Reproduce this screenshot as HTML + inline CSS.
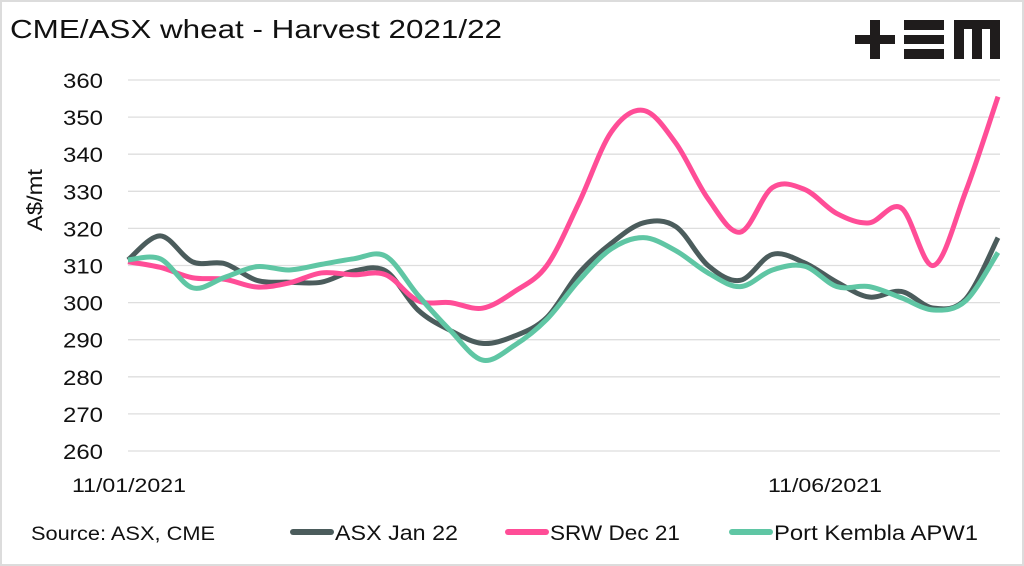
<!DOCTYPE html>
<html><head><meta charset="utf-8"><style>
body{margin:0;background:#fff}
#wrap{position:relative;width:1024px;height:566px;box-sizing:border-box;border:2px solid #dcdcdc;background:#fff;font-family:"Liberation Sans",sans-serif;overflow:hidden}
</style></head><body>
<div id="wrap">
<svg id="chart" width="1024" height="566" style="position:absolute;left:-2px;top:-2px">
<text x="10" y="38" font-size="26" fill="#111" textLength="492" lengthAdjust="spacingAndGlyphs">CME/ASX wheat - Harvest 2021/22</text>
<g fill="#1f1c1c">
<rect x="855" y="35" width="40" height="9"/><rect x="870" y="20" width="10" height="39"/>
<rect x="904" y="20" width="40" height="10"/><rect x="904" y="35" width="40" height="9"/><rect x="904" y="49" width="40" height="10"/>
<path d="M954 20h46v39h-10v-30h-8v30h-10v-30h-8v30h-10z"/>
</g>
<g id="grid"></g><g id="ylab"></g><g id="series"></g>
<text x="42" y="200" font-size="21" fill="#111" text-anchor="middle" textLength="62" lengthAdjust="spacingAndGlyphs" transform="rotate(-90 42 200)">A$/mt</text>
<text x="72" y="492" font-size="19" fill="#111" textLength="114" lengthAdjust="spacingAndGlyphs">11/01/2021</text>
<text x="768" y="492" font-size="19" fill="#111" textLength="114" lengthAdjust="spacingAndGlyphs">11/06/2021</text>
<text x="31" y="540" font-size="19" fill="#111" textLength="184" lengthAdjust="spacingAndGlyphs">Source: ASX, CME</text>
<g>
<g><line x1="293" y1="532" x2="331" y2="532" stroke="#4b5c5c" stroke-width="6" stroke-linecap="round"/><text x="335" y="540" font-size="21" fill="#111" textLength="123" lengthAdjust="spacingAndGlyphs">ASX Jan 22</text></g>
<g><line x1="508" y1="532" x2="546" y2="532" stroke="#ff4d97" stroke-width="6" stroke-linecap="round"/><text x="550" y="540" font-size="21" fill="#111" textLength="130" lengthAdjust="spacingAndGlyphs">SRW Dec 21</text></g>
<g><line x1="732" y1="532" x2="770" y2="532" stroke="#5fc6a4" stroke-width="6" stroke-linecap="round"/><text x="774" y="540" font-size="21" fill="#111" textLength="204" lengthAdjust="spacingAndGlyphs">Port Kembla APW1</text></g>
</g>
</svg>
</div>
<script>
const days=[0,7,14,21,28,35,42,49,56,63,70,77,84,91,98,105,112,119,126,133,140,147,154,161,168,175,182,189];
const asx=[311.5,318,311,310.5,306,305.5,305.5,308.5,308.5,298,292.5,289,291,296,308,316,321.5,320.5,310,306,313,310.7,305.5,301.5,303,298.5,301,317.5];
const srw=[311,309.5,306.7,306.3,304.2,305.3,308,307.5,307.5,300.5,300,298.5,303,310,327,346,351.8,343,328,319,331,330.5,324,321.5,325.5,310,330,355.5];
const pk=[311.5,311.8,304,306.8,309.7,308.8,310.3,311.8,312.5,302,292.5,284.5,288.5,295.5,306,314.5,317.5,314,308,304.3,308.8,309.8,304.3,304.3,301.3,298,300.5,313.5];
const yTicks=[260,270,280,290,300,310,320,330,340,350,360];
const X0=128,X1=998,Y0=451,Y1=80,DMAX=189,VMIN=260,VMAX=360;
const xs=d=>X0+(X1-X0)*d/DMAX;
const ys=v=>Y0-(Y0-Y1)*(v-VMIN)/(VMAX-VMIN);
const NS="http://www.w3.org/2000/svg";
const grid=document.getElementById('grid'),ylab=document.getElementById('ylab'),ser=document.getElementById('series');
yTicks.forEach(t=>{
 const l=document.createElementNS(NS,'line');
 l.setAttribute('x1',X0);l.setAttribute('x2',1000);l.setAttribute('y1',ys(t));l.setAttribute('y2',ys(t));
 l.setAttribute('stroke','#dedede');l.setAttribute('stroke-width','1.3');
 
 
 grid.appendChild(l);
 const tx=document.createElementNS(NS,'text');
 tx.setAttribute('x',103);tx.setAttribute('y',ys(t)+8);tx.setAttribute('text-anchor','end');tx.setAttribute('font-size','21');tx.setAttribute('fill','#111');
 tx.setAttribute('textLength','40');tx.setAttribute('lengthAdjust','spacingAndGlyphs');
 tx.textContent=t;
 
 
 ylab.appendChild(tx);
});
function path(vals){
 const p=vals.map((v,i)=>[xs(days[i]),ys(v)]);
 let d='M'+p[0][0]+' '+p[0][1];
 for(let i=0;i<p.length-1;i++){
  const a=p[Math.max(0,i-1)],b=p[i],c=p[i+1],e=p[Math.min(p.length-1,i+2)];
  const c1=[b[0]+(c[0]-a[0])/6,b[1]+(c[1]-a[1])/6],c2=[c[0]-(e[0]-b[0])/6,c[1]-(e[1]-b[1])/6];
  d+=` C${c1[0]} ${c1[1]} ${c2[0]} ${c2[1]} ${c[0]} ${c[1]}`;
 }
 return d;
}
[[asx,'#4b5c5c','line-asx-jan22'],[srw,'#ff4d97','line-srw-dec21'],[pk,'#5fc6a4','line-port-kembla-apw1']].forEach(([v,c,n])=>{
 const el=document.createElementNS(NS,'path');
 el.setAttribute('d',path(v));el.setAttribute('fill','none');el.setAttribute('stroke',c);el.setAttribute('stroke-width','5');el.setAttribute('stroke-linejoin','round');
 
 
 ser.appendChild(el);
});
</script>
</body></html>
